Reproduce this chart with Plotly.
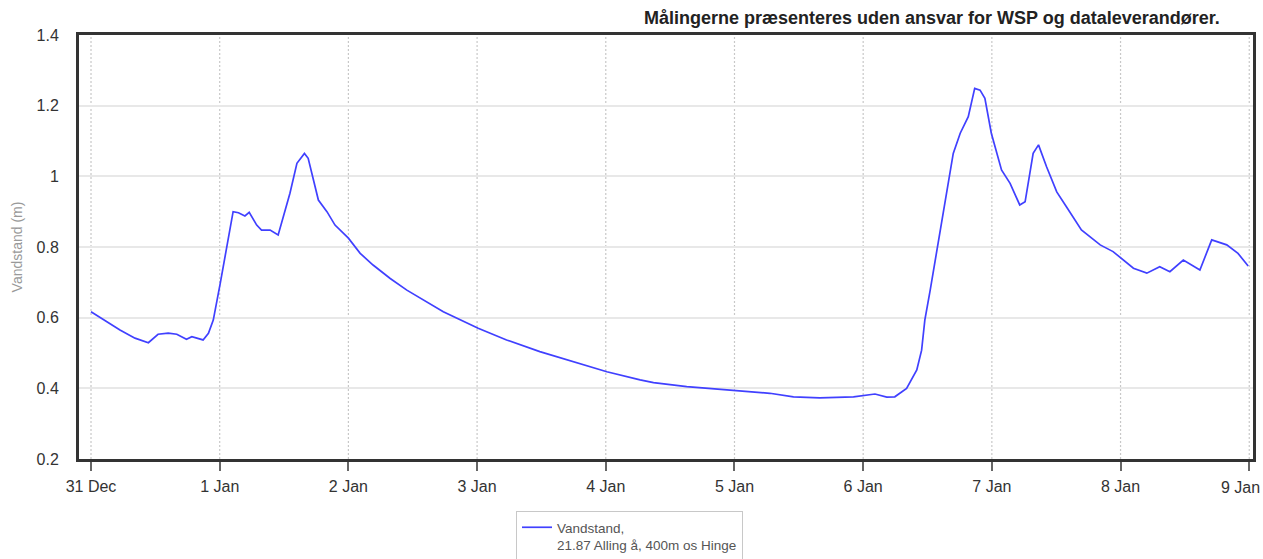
import pandas as pd
import plotly.graph_objects as go

# Hours since 31 Dec 00:00 and water level (m)
hours = [0.0, 2.9, 5.4, 8.2, 10.7, 12.5, 14.4, 16.0, 17.8, 18.8, 20.9, 21.9, 22.8,
         24.1, 25.3, 26.5, 27.5, 28.7, 29.5, 30.9, 31.8, 33.4, 34.9, 35.9, 37.1,
         38.4, 39.8, 40.5, 41.5, 42.4, 44.0, 45.5, 48.0, 50.2, 52.6, 55.8, 58.9,
         62.6, 65.7, 72.2, 77.5, 83.7, 89.9, 96.2, 102.4, 104.9, 111.1, 120.1,
         126.6, 131.0, 135.9, 142.2, 146.2, 148.4, 149.9, 152.1, 154.0, 154.9,
         155.5, 156.5, 158.3, 160.8, 162.1, 163.6, 164.8, 165.8, 166.7, 167.9,
         169.8, 171.4, 173.2, 174.2, 175.7, 176.7, 178.2, 180.1, 181.9, 184.7,
         188.2, 190.6, 194.4, 196.9, 199.3, 201.2, 203.7, 206.8, 209.0, 211.8,
         213.9, 215.8]
level = [0.617, 0.589, 0.565, 0.542, 0.529, 0.553, 0.556, 0.553, 0.539, 0.546, 0.537, 0.556, 0.593,
         0.697, 0.801, 0.900, 0.897, 0.888, 0.898, 0.862, 0.848, 0.848, 0.834, 0.886, 0.952,
         1.037, 1.065, 1.051, 0.990, 0.933, 0.900, 0.862, 0.825, 0.782, 0.749, 0.711, 0.678,
         0.645, 0.617, 0.570, 0.537, 0.504, 0.475, 0.447, 0.424, 0.416, 0.405, 0.395,
         0.386, 0.376, 0.373, 0.376, 0.384, 0.375, 0.376, 0.400, 0.452, 0.508,
         0.593, 0.678, 0.840, 1.065, 1.122, 1.169, 1.249, 1.244, 1.221, 1.122,
         1.018, 0.980, 0.919, 0.928, 1.065, 1.089, 1.027, 0.956, 0.914, 0.848,
         0.806, 0.787, 0.740, 0.726, 0.744, 0.730, 0.763, 0.735, 0.820, 0.806,
         0.782, 0.746]

x_tick_labels = ["31 Dec", "1 Jan", "2 Jan", "3 Jan", "4 Jan", "5 Jan", "6 Jan", "7 Jan", "8 Jan", "9 Jan"]
y_tick_vals = [0.2, 0.4, 0.6, 0.8, 1.0, 1.2, 1.4]
y_tick_text = ["0.2", "0.4", "0.6", "0.8", "1", "1.2", "1.4"]

base = pd.Timestamp("2023-12-31 00:00")
times = [base + pd.Timedelta(hours=h) for h in hours]
x_tick_vals = [base + pd.Timedelta(days=i) for i in range(len(x_tick_labels))]

fig = go.Figure()
fig.add_trace(go.Scatter(
    x=times, y=level, mode="lines",
    line=dict(color="#4040ff", width=1.7),
    name="Vandstand,<br>21.87 Alling å, 400m os Hinge",
    showlegend=True,
))

# dotted vertical day gridlines
for tv in x_tick_vals:
    fig.add_shape(type="line", xref="x", yref="paper", x0=tv, x1=tv, y0=0, y1=1,
                  line=dict(color="#c8c8c8", width=1.2, dash="2px,2px"), layer="below")

# the last tick label is pulled left so it stays inside the page
shown_ticktext = x_tick_labels[:-1] + [""]
annotations = [
    dict(text="<b>Målingerne præsenteres uden ansvar for WSP og dataleverandører.</b>",
         xref="paper", yref="paper", x=(1222 - 79) / 1174, y=1 + (35 - 18) / 424,
         xanchor="right", yanchor="middle",
         showarrow=False, font=dict(size=18, color="#222")),
    dict(text=x_tick_labels[-1], xref="x", yref="paper", x=x_tick_vals[-1],
         y=-(487 - 459) / 424, xanchor="center", yanchor="middle", xshift=-9,
         showarrow=False, font=dict(size=16, color="#333")),
]

fig.update_layout(
    width=1263, height=559,
    margin=dict(l=79, r=10, t=35, b=100, autoexpand=False),
    paper_bgcolor="white", plot_bgcolor="white",
    font=dict(family="Liberation Sans, Arial, sans-serif", color="#333"),
    showlegend=True,
    legend=dict(x=(516 - 79) / 1174, y=-(511 - 459) / 424,
                xanchor="left", yanchor="top",
                bordercolor="#c8c8c8", borderwidth=1, valign="top",
                font=dict(size=13.5, color="#555"), itemwidth=30),
    annotations=annotations,
)

fig.update_xaxes(
    range=[base - pd.Timedelta(hours=2.24), base + pd.Timedelta(hours=216.7)],
    tickvals=x_tick_vals, ticktext=shown_ticktext,
    ticks="outside", ticklen=9, tickcolor="#666", tickwidth=1.5,
    tickfont=dict(size=16, color="#333"), ticklabelstandoff=2,
    automargin=False,
    showgrid=False, zeroline=False,
    showline=True, linecolor="#333", linewidth=3, mirror=True,
)
fig.update_yaxes(
    range=[0.2, 1.4],
    tickvals=y_tick_vals, ticktext=y_tick_text,
    tickfont=dict(size=16, color="#333"),
    ticklabelstandoff=14, automargin=False,
    showgrid=True, gridcolor="#e8e8e8", gridwidth=1.5, zeroline=False,
    showline=True, linecolor="#333", linewidth=3, mirror=True,
    title=dict(text="Vandstand (m)", font=dict(size=14, color="#999"), standoff=11),
)

fig.write_html(
    "out.html",
    config={"displayModeBar": False},
    post_script="document.body.style.margin='0';document.body.style.overflow='hidden';",
)
